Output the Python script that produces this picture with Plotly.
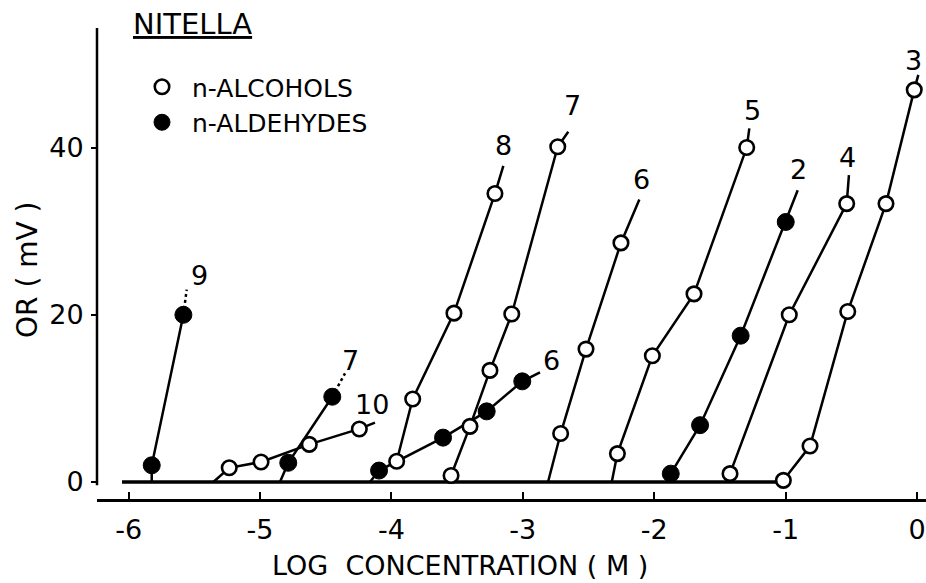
import plotly.graph_objects as go

# ---------------- data (log concentration [M], OR [mV]) ----------------
x_ticks = [-6, -5, -4, -3, -2, -1, 0]
x_tick_labels = ["-6", "-5", "-4", "-3", "-2", "-1", "0"]
y_ticks = [0, 20, 40]
y_tick_labels = ["0", "20", "40"]

baseline_x = [-6.05, -1.02]
baseline_y = [0, 0]

# n-alcohols (open circles)
alc3_x = [-1.017, -0.814, -0.527, -0.236, -0.021]
alc3_y = [0.2, 4.3, 20.4, 33.3, 46.9]
alc3_start = None
alc3_tail = (0.01, 48.7)

alc4_x = [-1.423, -0.972, -0.535]
alc4_y = [1.0, 20.0, 33.3]
alc4_start = None
alc4_tail = (-0.518, 36.7)

alc5_x = [-2.28, -2.014, -1.697, -1.296]
alc5_y = [3.4, 15.1, 22.5, 40.0]
alc5_start = -2.323
alc5_tail = (-1.276, 42.3)

alc6_x = [-2.712, -2.519, -2.253]
alc6_y = [5.8, 15.9, 28.6]
alc6_start = -2.808
alc6_tail = (-2.113, 33.8)

alc7_x = [-3.546, -3.402, -3.250, -3.084, -2.734]
alc7_y = [0.78, 6.66, 13.35, 20.1, 40.1]
alc7_start = None
alc7_tail = (-2.654, 41.9)

alc8_x = [-3.960, -3.838, -3.524, -3.212]
alc8_y = [2.48, 9.93, 20.2, 34.5]
alc8_start = None
alc8_tail = (-3.148, 37.8)

alc10_x = [-5.234, -4.992, -4.625, -4.244]
alc10_y = [1.7, 2.4, 4.5, 6.35]
alc10_start = -5.355
alc10_tail = (-4.125, 7.1)

# n-aldehydes (filled circles)
ald2_x = [-1.874, -1.651, -1.342, -0.999]
ald2_y = [1.0, 6.8, 17.5, 31.1]
ald2_start = None
ald2_tail = (-0.908, 34.9)

ald6_x = [-4.094, -3.607, -3.275, -3.004]
ald6_y = [1.37, 5.31, 8.45, 12.04]
ald6_start = -4.163
ald6_tail = (-2.869, 13.1)

ald7_x = [-4.785, -4.45]
ald7_y = [2.3, 10.2]
ald7_start = -4.848
ald7_tail = (-4.353, 13.0)

ald9_x = [-5.824, -5.583]
ald9_y = [2.0, 20.0]
ald9_start = -5.824
ald9_tail = (-5.558, 23.0)

alcohols = [("3", alc3_x, alc3_y, alc3_start, alc3_tail),
            ("4", alc4_x, alc4_y, alc4_start, alc4_tail),
            ("5", alc5_x, alc5_y, alc5_start, alc5_tail),
            ("6", alc6_x, alc6_y, alc6_start, alc6_tail),
            ("7", alc7_x, alc7_y, alc7_start, alc7_tail),
            ("8", alc8_x, alc8_y, alc8_start, alc8_tail),
            ("10", alc10_x, alc10_y, alc10_start, alc10_tail)]
aldehydes = [("2", ald2_x, ald2_y, ald2_start, ald2_tail),
             ("6", ald6_x, ald6_y, ald6_start, ald6_tail),
             ("7", ald7_x, ald7_y, ald7_start, ald7_tail),
             ("9", ald9_x, ald9_y, ald9_start, ald9_tail)]
dotted_tails = {"ald7", "ald9"}

# label offsets in pixels (style)
label_shift = {"alc3": (-5, -14), "alc4": (-1, -18), "alc5": (3, -18), "alc6": (2, -20),
               "alc7": (4, -26), "alc8": (0, -20), "alc10": (-3, -18),
               "ald2": (1, -21), "ald6": (11, -12), "ald7": (5, -13), "ald9": (13, -14)}

FONT = "DejaVu Sans"
LW = 2.5

fig = go.Figure()

fig.add_trace(go.Scatter(x=baseline_x, y=baseline_y, mode="lines",
                         line=dict(color="black", width=3.5), showlegend=False, hoverinfo="skip"))

annotations = []
for kind, group in (("alc", alcohols), ("ald", aldehydes)):
    for name, xs, ys, start, tail in group:
        key = kind + name
        lx = ([start] if start is not None else []) + list(xs)
        ly = ([0] if start is not None else []) + list(ys)
        if key in dotted_tails:
            fig.add_trace(go.Scatter(x=lx, y=ly, mode="lines", line=dict(color="black", width=LW),
                                     showlegend=False, hoverinfo="skip"))
            fig.add_trace(go.Scatter(x=[xs[-1], tail[0]], y=[ys[-1], tail[1]], mode="lines",
                                     line=dict(color="black", width=LW, dash="dot"),
                                     showlegend=False, hoverinfo="skip"))
        else:
            fig.add_trace(go.Scatter(x=lx + [tail[0]], y=ly + [tail[1]], mode="lines",
                                     line=dict(color="black", width=LW),
                                     showlegend=False, hoverinfo="skip"))
        dx, dy = label_shift[key]
        annotations.append(dict(x=tail[0], y=tail[1], xref="x", yref="y", text=name,
                                showarrow=False, xshift=dx, yshift=-dy,
                                font=dict(family=FONT, size=27, color="black")))

first = True
for name, xs, ys, start, tail in alcohols:
    fig.add_trace(go.Scatter(x=xs, y=ys, mode="markers", name="n-ALCOHOLS",
                             legendgroup="alc", showlegend=first,
                             marker=dict(symbol="circle", size=14.5, color="white",
                                         line=dict(color="black", width=2.6))))
    first = False
first = True
for name, xs, ys, start, tail in aldehydes:
    fig.add_trace(go.Scatter(x=xs, y=ys, mode="markers", name="n-ALDEHYDES",
                             legendgroup="ald", showlegend=first,
                             marker=dict(symbol="circle", size=17, color="black",
                                         line=dict(color="black", width=1))))
    first = False

# figure label
annotations.append(dict(x=(192 - 97) / 829, y=(499 - 24) / 471, xref="paper", yref="paper",
                        text="<u>NITELLA</u>", showarrow=False, xanchor="center", yanchor="middle",
                        font=dict(family=FONT, size=29, color="black")))
# axis titles
annotations.append(dict(x=(460 - 97) / 829, y=-(565 - 499) / 471, xref="paper", yref="paper",
                        text="LOG  CONCENTRATION ( M )", showarrow=False,
                        xanchor="center", yanchor="middle",
                        font=dict(family=FONT, size=27, color="black")))
annotations.append(dict(x=-(97 - 27) / 829, y=(499 - 270) / 471, xref="paper", yref="paper",
                        text="OR ( mV )", showarrow=False, textangle=-90,
                        xanchor="center", yanchor="middle",
                        font=dict(family=FONT, size=28, color="black")))

fig.update_layout(
    width=926, height=583,
    margin=dict(l=97, r=0, t=28, b=84),
    paper_bgcolor="white", plot_bgcolor="white",
    font=dict(family=FONT, color="black"),
    annotations=annotations,
    showlegend=True,
    legend=dict(x=(132 - 97) / 829, y=(499 - 64) / 471, xanchor="left", yanchor="top",
                bgcolor="rgba(0,0,0,0)", font=dict(family=FONT, size=25, color="black"),
                itemwidth=50, tracegroupgap=0),
    xaxis=dict(range=[-6.2405, 0.0685], tickvals=x_ticks, ticktext=x_tick_labels,
               ticks="inside", ticklen=7, tickwidth=2, tickcolor="black",
               showline=True, linewidth=2.5, linecolor="black",
               showgrid=False, zeroline=False, tickfont=dict(family=FONT, size=27),
               ticklabelstandoff=5),
    yaxis=dict(range=[-2.03, 54.3], tickvals=y_ticks, ticktext=y_tick_labels,
               ticks="outside", ticklen=5, tickwidth=2, tickcolor="black",
               showline=False, showgrid=False, zeroline=False,
               tickfont=dict(family=FONT, size=27), ticklabelstandoff=2),
    shapes=[dict(type="line", xref="paper", yref="y", x0=0, x1=0, y0=-0.4, y1=54.3,
                 line=dict(color="black", width=2.5))],
)

fig.write_html("out.html")
